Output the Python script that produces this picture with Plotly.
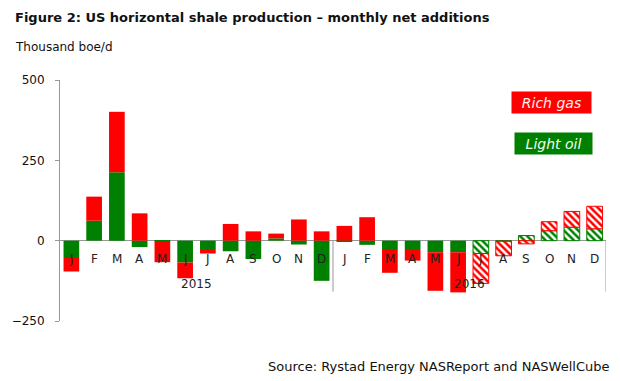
import plotly.graph_objects as go

# ---- data ----
month_letters = ["J", "F", "M", "A", "M", "J", "J", "A", "S", "O", "N", "D"] * 2
month_names = ["Jan", "Feb", "Mar", "Apr", "May", "Jun", "Jul", "Aug", "Sep", "Oct", "Nov", "Dec"]
years = ["2015"] * 12 + ["2016"] * 12
categories = [f"{m} {y}" for m, y in zip(month_names * 2, years)]

light_oil = [-54, 62, 213, -20, -2, -68, -26, -33, -57, 7, -12, -125,
             -3, -13, -26, -26, -36, -36, -40, -2, 16, 31, 42, 37]
rich_gas = [-42, 75, 188, 85, -65, -49, -14, 52, 29, 15, 66, 29,
            46, 73, -74, -36, -120, -125, -93, -45, -10, 28, 49, 70]
forecast = [False] * 18 + [True] * 6

y_ticks = [-250, 0, 250, 500]

RED = "#ff0000"
GREEN = "#008000"
FONT = "DejaVu Sans"


def trace(name, values, color):
    shapes = ["\\" if f else "" for f in forecast]
    lw = [1 if f else 0 for f in forecast]
    return go.Bar(
        x=categories, y=values, name=name,
        marker=dict(
            color=color,
            line=dict(color=color, width=lw),
            pattern=dict(shape=shapes, fgcolor=color, bgcolor="white",
                         size=5, solidity=0.5, fillmode="replace"),
        ),
        showlegend=False,
        hoverinfo="x+y+name",
    )


fig = go.Figure()
fig.add_trace(trace("Light oil", light_oil, GREEN))
fig.add_trace(trace("Rich gas", rich_gas, RED))

annotations = []
for cat, lab in zip(categories, month_letters):
    annotations.append(dict(x=cat, y=0, xref="x", yref="y", text=lab,
                            showarrow=False, yshift=-18,
                            font=dict(family=FONT, size=12, color="#222")))
# year labels
for yr, idx in (("2015", 5.5), ("2016", 17.5)):
    annotations.append(dict(x=idx, y=0, xref="x", yref="y", text=yr,
                            showarrow=False, yshift=-43,
                            font=dict(family=FONT, size=12, color="#222")))

# legend boxes (pixel centres, converted to paper below)
annotations.append(dict(x=551.5, y=102.7, text="<i>Rich gas</i>", showarrow=False,
                        xanchor="center", yanchor="middle",
                        bgcolor=RED, width=79, height=21, borderpad=0,
                        font=dict(family=FONT, size=14, color="#fff0f0")))
annotations.append(dict(x=553.5, y=143.5, text="<i>Light oil</i>", showarrow=False,
                        xanchor="center", yanchor="middle",
                        bgcolor=GREEN, width=77, height=21, borderpad=0,
                        font=dict(family=FONT, size=14, color="#f0fff0")))

# title, unit, source
annotations.append(dict(x=13, y=17, text="<b>Figure 2: US horizontal shale production – monthly net additions</b>",
                        showarrow=False, xanchor="left", yanchor="middle",
                        font=dict(family=FONT, size=13, color="#111")))
annotations.append(dict(x=13, y=47, text="Thousand boe/d", showarrow=False,
                        xanchor="left", yanchor="middle",
                        font=dict(family=FONT, size=12, color="#111")))
annotations.append(dict(x=611, y=366, text="Source: Rystad Energy NASReport and NASWellCube",
                        showarrow=False, xanchor="right", yanchor="middle",
                        font=dict(family=FONT, size=13, color="#111")))

W, H = 620, 381
L, R, T, B = 60, 14, 80, 60
pw, ph = W - L - R, H - T - B
for a in annotations[-5:]:
    a["xref"] = "paper"
    a["yref"] = "paper"
    a["x"] = (a["x"] - L) / pw
    a["y"] = (H - B - a["y"]) / ph

shapes = []
for xs in (11.5, 23.5):
    shapes.append(dict(type="line", xref="x", yref="y", x0=xs, x1=xs,
                       ysizemode="pixel", yanchor=0, y0=0, y1=-51,
                       line=dict(color="#999", width=1)))

fig.update_layout(
    width=W, height=H,
    margin=dict(l=L, r=R, t=T, b=B),
    paper_bgcolor="white", plot_bgcolor="white",
    barmode="relative", bargap=0.31,
    font=dict(family=FONT, size=12, color="#111"),
    annotations=annotations,
    shapes=shapes,
    xaxis=dict(type="category", categoryorder="array", categoryarray=categories,
               range=[-0.5, 23.5], showticklabels=False, showgrid=False,
               zeroline=False, showline=False, ticks=""),
    yaxis=dict(range=[-250, 500], tickvals=y_ticks, ticks="outside", ticklen=4,
               tickcolor="#9a9a8a", showline=True, linecolor="#9a9a8a", linewidth=1,
               showgrid=False, zeroline=True, zerolinecolor="#999", zerolinewidth=1,
               ticklabelstandoff=8, tickfont=dict(family=FONT, size=12, color="#111")),
)

fig.write_html("out.html", config={"displayModeBar": False},
               post_script="document.body.style.margin='0';document.body.style.padding='0';")
